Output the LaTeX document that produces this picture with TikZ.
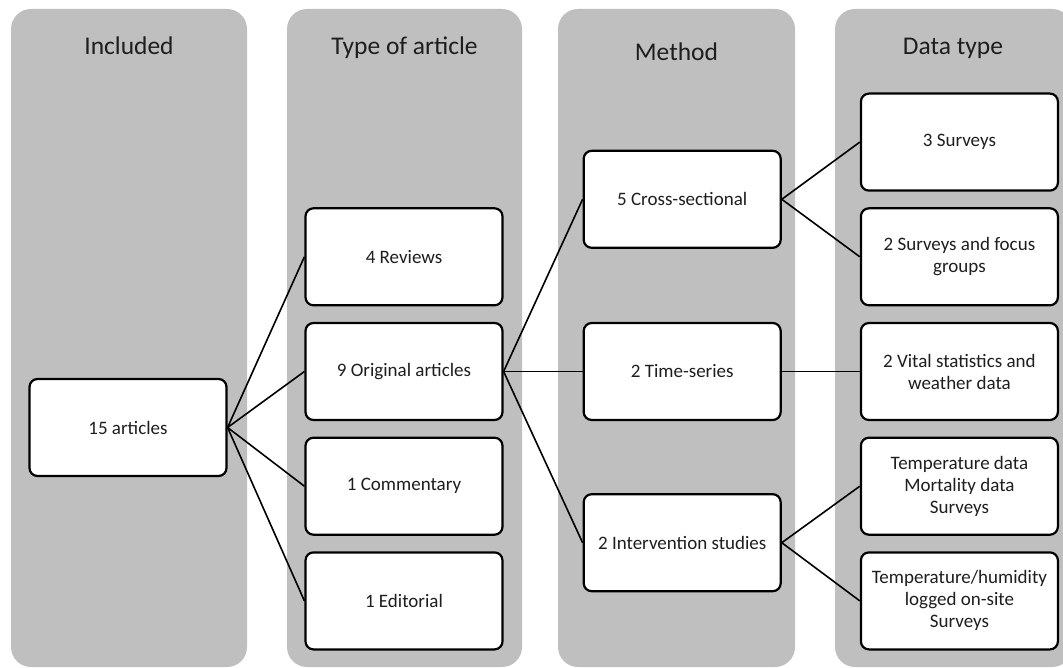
\documentclass[tikz,border=0pt]{standalone}
\usepackage{fontspec}
\setmainfont{Carlito}
\usepackage{tikz}
\usetikzlibrary{positioning}

\definecolor{lanegray}{HTML}{BFBFBF}
\definecolor{inkgray}{HTML}{1E1E1E}

\begin{document}
\begin{tikzpicture}[
  x=1pt, y=-1pt, node distance=15.5pt,
  lane/.style={fill=lanegray, rounded corners=20pt},
  head/.style={anchor=base, text=inkgray, font=\fontsize{25.5}{30}\selectfont},
  box/.style={draw, line width=2.2pt, rounded corners=8pt, fill=white,
              minimum height=97pt, minimum width=197pt, align=center,
              text=inkgray, font=\fontsize{19}{22}\selectfont},
  link/.style={line width=1.6pt},
]
\useasboundingbox (0,0) rectangle (1063,668);
\clip (0,0) rectangle (1063,668);

% columns
\fill[lane] (11,9) rectangle (247,667);
\fill[lane] (287,9) rectangle (522,667);
\fill[lane] (558,9) rectangle (795,667);
\fill[lane] (835,9) rectangle (1072,667);
\node[head] (hincl) at (129,55) {Included};
\node[head] (htype) at (404.5,55) {Type of article};
\node[head] (hmeth) at (676.5,61) {Method};
\node[head] (hdata) at (953,55) {Data type};

% boxes
\node[box] (articles) at (128,427.5) {15 articles};
\node[box] (original) at (404,371.5) {9 Original articles};
\node[box, above=of original] (reviews) {4 Reviews};
\node[box, below=of original] (comment) {1 Commentary};
\node[box, below=of comment] (editorial) {1 Editorial};
\node[box, right=79pt of original] (timeser) {2 Time-series};
\node[box, above=73pt of timeser] (crosssec) {5 Cross-sectional};
\node[box, below=72pt of timeser] (interv) {2 Intervention studies};
\node[box, right=78pt of timeser] (vital) {2 Vital statistics and\\weather data};
\node[box, above=of vital] (focus) {2 Surveys and focus\\groups};
\node[box, above=of focus] (surveys) {3 Surveys};
\node[box, below=of vital] (tempdata) {Temperature data\\Mortality data\\Surveys};
\node[box, below=of tempdata] (temphum) {Temperature/humidity\\logged on-site\\Surveys};

% links
\foreach \t in {reviews, original, comment, editorial}
  \draw[link] (articles.east) -- (\t.west);
\foreach \t in {crosssec, timeser, interv}
  \draw[link] (original.east) -- (\t.west);
\draw[link] (crosssec.east) -- (surveys.west);
\draw[link] (crosssec.east) -- (focus.west);
\draw[link] (timeser) -- (vital);
\draw[link] (interv.east) -- (tempdata.west);
\draw[link] (interv.east) -- (temphum.west);
\end{tikzpicture}
\end{document}
